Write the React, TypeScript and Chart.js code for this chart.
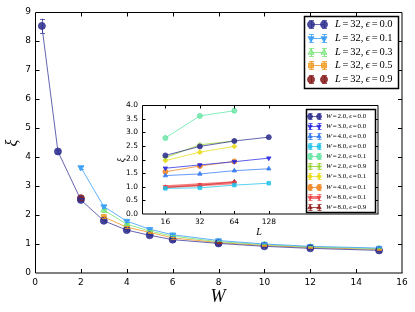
import React, { useEffect, useRef } from 'react';
import { Chart, registerables } from 'chart.js';
import { drawPoint } from 'chart.js/helpers';
Chart.register(...registerables);
Chart.defaults.color = '#000';

// ---------- main plot data ----------
const W_E00 = [0.3, 1, 2, 3, 4, 5, 6, 8, 10, 12, 15];
const XI_E00 = [8.52, 4.19, 2.52, 1.8, 1.48, 1.3, 1.15, 1.02, 0.92, 0.85, 0.78];
const ERR_E00 = [0.25, 0.05, 0.05, 0.04, 0.03, 0.03, 0.03, 0.03, 0.02, 0.02, 0.02];
const W_E01 = [2, 3, 4, 5, 6, 8, 10, 12, 15];
const XI_E01 = [3.64, 2.29, 1.79, 1.51, 1.32, 1.12, 1.0, 0.92, 0.86];
const ERR_E01 = [0.06, 0.05, 0.04, 0.03, 0.03, 0.03, 0.02, 0.02, 0.02];
const W_E03 = [3, 4, 5, 6, 8, 10, 12, 15];
const XI_E03 = [2.17, 1.68, 1.45, 1.27, 1.08, 0.98, 0.9, 0.84];
const ERR_E03 = [0.05, 0.04, 0.03, 0.03, 0.03, 0.02, 0.02, 0.02];
const W_E05 = [3, 4, 5, 6, 8, 10, 12, 15];
const XI_E05 = [1.93, 1.58, 1.4, 1.21, 1.05, 0.95, 0.88, 0.81];
const ERR_E05 = [0.05, 0.04, 0.03, 0.03, 0.03, 0.02, 0.02, 0.02];
const W_E09 = [2, 8];
const XI_E09 = [2.58, 1.05];
const ERR_E09 = [0.05, 0.03];
const MAIN_L = '32';
const MAIN_EPS = ['0.0', '0.1', '0.3', '0.5', '0.9'];

// ---------- inset data ----------
const L_FULL = [16, 32, 64, 128];
const L_SHORT = [16, 32, 64];
const L_TICKS = [16, 32, 64, 128];
const XI_W2_E00 = [2.15, 2.48, 2.68, 2.82];
const XI_W3_E00 = [1.68, 1.8, 1.92, 2.05];
const XI_W4_E00 = [1.41, 1.47, 1.59, 1.66];
const XI_W8_E00 = [0.94, 0.96, 1.06, 1.13];
const XI_W2_E01 = [2.79, 3.6, 3.79];
const XI_W2_E09 = [2.07, 2.54, 2.68];
const XI_W3_E01 = [1.96, 2.27, 2.48];
const XI_W4_E01 = [1.55, 1.76, 1.93];
const XI_W8_E01 = [1.0, 1.07, 1.15];
const XI_W8_E09 = [0.98, 1.05, 1.18];
const INSET_W = ['2.0', '3.0', '4.0', '8.0', '2.0', '2.0', '3.0', '4.0', '8.0', '8.0'];
const INSET_EPS = ['0.0', '0.0', '0.0', '0.0', '0.1', '0.9', '0.1', '0.1', '0.1', '0.9'];

const pts = (xs: number[], ys: number[]) => xs.map((x, i) => ({ x, y: ys[i] }));

type Part = [string, boolean, number];
const mathLabel = (sym: string, a: string, b: string, g: number): Part[] => [
  [sym, true, g],
  ['=', false, g],
  [a + ',', false, g + 0.05],
  ['\u03F5', true, g],
  ['=', false, g],
  [b, false, 0],
];

function drawMath(ctx: CanvasRenderingContext2D, x: number, y: number, parts: Part[], size: number) {
  let cx = x;
  ctx.textAlign = 'left';
  ctx.textBaseline = 'middle';
  for (const [t, it, gap] of parts) {
    ctx.font = `${it ? 'italic ' : ''}${size}px "Liberation Serif", "DejaVu Serif", serif`;
    ctx.fillText(t, cx, y);
    cx += ctx.measureText(t).width + gap * size;
  }
}

const framePlugin = (tickLen: number) => ({
  id: 'frame',
  beforeDraw(chart: any) {
    const { ctx, chartArea: a } = chart;
    ctx.save();
    ctx.fillStyle = '#fff';
    ctx.fillRect(a.left, a.top, a.right - a.left, a.bottom - a.top);
    ctx.restore();
  },
  afterDatasetsDraw(chart: any) {
    const { ctx, chartArea: a, scales } = chart;
    ctx.save();
    ctx.strokeStyle = '#000';
    ctx.lineWidth = 1;
    const L = Math.round(a.left) + 0.5;
    const T = Math.round(a.top) + 0.5;
    const R = Math.round(a.right);
    const B = Math.round(a.bottom);
    ctx.beginPath();
    scales.x.ticks.forEach((t: any) => {
      const p = Math.round(scales.x.getPixelForValue(t.value)) + 0.5;
      if (p < L + 1 || p > R - 1) return;
      ctx.moveTo(p, B); ctx.lineTo(p, B - tickLen);
      ctx.moveTo(p, T); ctx.lineTo(p, T + tickLen);
    });
    scales.y.ticks.forEach((t: any) => {
      const p = Math.round(scales.y.getPixelForValue(t.value)) + 0.5;
      if (p < T + 1 || p > B - 1) return;
      ctx.moveTo(L, p); ctx.lineTo(L + tickLen, p);
      ctx.moveTo(R, p); ctx.lineTo(R - tickLen, p);
    });
    ctx.stroke();
    ctx.beginPath();
    ctx.moveTo(L, T); ctx.lineTo(R, T);
    ctx.moveTo(L, T); ctx.lineTo(L, B);
    ctx.stroke();
    ctx.beginPath();
    ctx.moveTo(L, B); ctx.lineTo(R + 0.5, B);
    ctx.moveTo(R, T); ctx.lineTo(R, B);
    ctx.stroke();
    ctx.restore();
  },
});

const errorPlugin = (cap: number) => ({
  id: 'errbars',
  afterDatasetsDraw(chart: any) {
    const { ctx } = chart;
    const ys = chart.scales.y;
    chart.data.datasets.forEach((ds: any, i: number) => {
      if (!ds.errors) return;
      const meta = chart.getDatasetMeta(i);
      ctx.save();
      ctx.strokeStyle = ds.borderColor;
      ctx.lineWidth = 1;
      meta.data.forEach((el: any, j: number) => {
        const v = ds.data[j].y;
        const e = ds.errors[j];
        const t = ys.getPixelForValue(v + e);
        const b = ys.getPixelForValue(v - e);
        const x = Math.round(el.x) + 0.5;
        ctx.beginPath();
        ctx.moveTo(x, t); ctx.lineTo(x, b);
        ctx.moveTo(x - cap, Math.round(t) + 0.5); ctx.lineTo(x + cap, Math.round(t) + 0.5);
        ctx.moveTo(x - cap, Math.round(b) + 0.5); ctx.lineTo(x + cap, Math.round(b) + 0.5);
        ctx.stroke();
      });
      ctx.restore();
    });
  },
});

const legendPlugin = (cfg: any) => ({
  id: 'mylegend',
  afterDraw(chart: any) {
    const { ctx } = chart;
    const { x, y, w, h, row0, step, m1, m2, textX, size, labels, errH, cap } = cfg;
    ctx.save();
    ctx.fillStyle = '#fff';
    ctx.fillRect(x, y, w, h);
    ctx.strokeStyle = '#000';
    ctx.lineWidth = 1.5;
    ctx.strokeRect(x + 0.5, y + 0.5, w, h);
    chart.data.datasets.forEach((ds: any, i: number) => {
      const ry = Math.round(row0 + i * step) + 0.5;
      ctx.strokeStyle = ds.borderColor;
      if (ds.showLine) {
        ctx.lineWidth = ds.borderWidth;
        ctx.beginPath();
        ctx.moveTo(m1, ry); ctx.lineTo(m2, ry);
        ctx.stroke();
      }
      ctx.lineWidth = 1;
      [m1, m2].forEach((mx: number) => {
        const px = Math.round(mx) + 0.5;
        ctx.beginPath();
        ctx.moveTo(px, ry - errH); ctx.lineTo(px, ry + errH);
        ctx.moveTo(px - cap, ry - errH); ctx.lineTo(px + cap, ry - errH);
        ctx.moveTo(px - cap, ry + errH); ctx.lineTo(px + cap, ry + errH);
        ctx.stroke();
      });
      [m1, m2].forEach((mx: number) => {
        ctx.fillStyle = ds.backgroundColor;
        ctx.strokeStyle = ds.borderColor;
        ctx.lineWidth = ds.pointBorderWidth;
        drawPoint(ctx, {
          pointStyle: ds.pointStyle,
          rotation: ds.pointRotation || 0,
          radius: ds.pointRadius,
          borderWidth: ds.pointBorderWidth,
        } as any, mx, ry);
      });
      ctx.fillStyle = '#000';
      drawMath(ctx, textX, ry, labels[i], size);
    });
    ctx.restore();
  },
});

const titlesPlugin = (items: any[]) => ({
  id: 'titles',
  afterDraw(chart: any) {
    const { ctx } = chart;
    items.forEach((it) => {
      ctx.save();
      ctx.translate(it.x, it.y);
      if (it.rot) ctx.rotate(-Math.PI / 2);
      ctx.font = `italic ${it.size}px "Liberation Serif", "DejaVu Serif", serif`;
      ctx.fillStyle = '#000';
      ctx.textAlign = 'center';
      ctx.textBaseline = 'middle';
      ctx.fillText(it.text, 0, 0);
      ctx.restore();
    });
  },
});

function series(label: string, xs: number[], ys: number[], color: string, fill: string, style: string, opts: any = {}) {
  return {
    label,
    data: pts(xs, ys),
    showLine: true,
    borderColor: color,
    backgroundColor: fill,
    borderWidth: 1,
    pointStyle: style,
    pointRadius: 3.5,
    pointBorderWidth: 1,
    pointBorderColor: color,
    pointBackgroundColor: fill,
    ...opts,
  };
}

export default function App() {
  const mainRef = useRef<HTMLCanvasElement>(null);
  const insetRef = useRef<HTMLCanvasElement>(null);

  useEffect(() => {
    const tickFont = { family: '"DejaVu Sans", sans-serif', size: 9 };
    const main = new Chart(mainRef.current!, {
      type: 'scatter',
      data: {
        datasets: [
          series('e0', W_E00, XI_E00, 'rgba(50,50,150,0.75)', 'rgba(45,45,140,0.85)', 'circle', { errors: ERR_E00 }),
          series('e1', W_E01, XI_E01, 'rgba(60,160,250,0.8)', 'rgba(50,150,245,0.85)', 'triangle', { errors: ERR_E01, pointRotation: 180 }),
          series('e3', W_E03, XI_E03, 'rgba(110,225,110,0.75)', 'rgba(150,235,150,0.75)', 'triangle', { errors: ERR_E03 }),
          series('e5', W_E05, XI_E05, 'rgba(240,150,30,0.8)', 'rgba(240,160,40,0.8)', 'rect', { errors: ERR_E05 }),
          series('e9', W_E09, XI_E09, 'rgba(140,30,30,0.8)', 'rgba(130,25,25,0.85)', 'circle', { errors: ERR_E09, showLine: false }),
        ] as any,
      },
      options: {
        animation: false,
        responsive: false,
        layout: { padding: { left: 0, top: 12, right: 13, bottom: 0 }, autoPadding: false } as any,
        plugins: { legend: { display: false }, tooltip: { enabled: false } },
        scales: {
          x: {
            type: 'linear', min: 0, max: 16,
            ticks: { stepSize: 2, font: tickFont, padding: 4, maxRotation: 0 },
            grid: { display: false, drawTicks: false },
            border: { display: false },
            afterFit: (s: any) => { s.height = 39; },
          },
          y: {
            type: 'linear', min: 0, max: 9,
            ticks: { stepSize: 1, font: tickFont, padding: 4 },
            grid: { display: false, drawTicks: false },
            border: { display: false },
            afterFit: (s: any) => { s.width = 35; },
          },
        },
      } as any,
      plugins: [
        framePlugin(4),
        errorPlugin(2.5),
        legendPlugin({
          x: 304, y: 16, w: 94, h: 72, row0: 24, step: 13.75, m1: 311, m2: 324, textX: 335, size: 10.5,
          errH: 4, cap: 2.5,
          labels: MAIN_EPS.map((e) => mathLabel('L', MAIN_L, e, 0.17)),
        }),
        titlesPlugin([
          { text: 'W', x: 218, y: 297, size: 18 },
          { text: '\u03BE', x: 13, y: 143, size: 16, rot: true },
        ]),
      ] as any,
    });

    const iFont = { family: '"DejaVu Sans", sans-serif', size: 7.5 };
    const r = 2.5;
    const inset = new Chart(insetRef.current!, {
      type: 'scatter',
      data: {
        datasets: [
          series('a', L_FULL, XI_W2_E00, 'rgba(50,50,150,0.75)', 'rgba(45,45,140,0.85)', 'circle', { pointRadius: r }),
          series('b', L_FULL, XI_W3_E00, 'rgba(40,40,230,0.75)', 'rgba(35,35,220,0.85)', 'triangle', { pointRadius: r, pointRotation: 180 }),
          series('c', L_FULL, XI_W4_E00, 'rgba(50,120,240,0.75)', 'rgba(45,115,235,0.85)', 'triangle', { pointRadius: r }),
          series('d', L_FULL, XI_W8_E00, 'rgba(30,195,235,0.75)', 'rgba(30,190,235,0.8)', 'rect', { pointRadius: r }),
          series('e', L_SHORT, XI_W2_E01, 'rgba(90,230,160,0.75)', 'rgba(100,225,160,0.75)', 'circle', { pointRadius: r }),
          series('f', L_SHORT, XI_W2_E09, 'rgba(150,210,50,0.8)', 'rgba(120,170,40,0.85)', 'star', { pointRadius: r + 0.5 }),
          series('g', L_SHORT, XI_W3_E01, 'rgba(235,225,30,0.8)', 'rgba(235,215,20,0.85)', 'rectRot', { pointRadius: r }),
          series('h', L_SHORT, XI_W4_E01, 'rgba(240,140,40,0.8)', 'rgba(240,130,30,0.85)', 'circle', { pointRadius: r }),
          series('i', L_SHORT, XI_W8_E01, 'rgba(240,70,70,0.7)', 'rgba(230,60,60,0.85)', 'triangle', { pointRadius: r, pointRotation: 180, borderWidth: 3 }),
          series('j', L_SHORT, XI_W8_E09, 'rgba(150,35,35,0.8)', 'rgba(140,30,30,0.85)', 'triangle', { pointRadius: r }),
        ] as any,
      },
      options: {
        animation: false,
        responsive: false,
        layout: { padding: { left: 0, top: 15, right: 12, bottom: 0 }, autoPadding: false } as any,
        plugins: { legend: { display: false }, tooltip: { enabled: false } },
        scales: {
          x: {
            type: 'logarithmic', min: 10, max: 1150,
            afterBuildTicks: (s: any) => { s.ticks = L_TICKS.map((v) => ({ value: v })); },
            ticks: { font: iFont, padding: 4, maxRotation: 0, autoSkip: false, callback: (v: any) => String(v) },
            grid: { display: false, drawTicks: false },
            border: { display: false },
            afterFit: (s: any) => { s.height = 36; },
          },
          y: {
            type: 'linear', min: 0, max: 4,
            ticks: { stepSize: 0.5, font: iFont, padding: 4, callback: (v: any) => Number(v).toFixed(1) },
            grid: { display: false, drawTicks: false },
            border: { display: false },
            afterFit: (s: any) => { s.width = 42; },
          },
        },
      } as any,
      plugins: [
        framePlugin(3),
        legendPlugin({
          x: 206, y: 19, w: 69, h: 103, row0: 25.5, step: 10.15, m1: 210, m2: 219, textX: 226, size: 7,
          errH: 3, cap: 2,
          labels: INSET_W.map((w, i) => mathLabel('W', w, INSET_EPS[i], 0.12)),
        }),
        titlesPlugin([
          { text: 'L', x: 159, y: 142, size: 10 },
          { text: '\u03BE', x: 21, y: 70, size: 10, rot: true },
        ]),
      ] as any,
    });

    return () => { main.destroy(); inset.destroy(); };
  }, []);

  return (
    <div style={{ position: 'fixed', left: 0, top: 0, width: 415, height: 312, background: '#fff' }}>
      <canvas ref={mainRef} width={415} height={312} style={{ display: 'block', position: 'absolute', left: 0, top: 0 }} />
      <canvas ref={insetRef} width={290} height={160} style={{ display: 'block', position: 'absolute', left: 100, top: 90 }} />
    </div>
  );
}
